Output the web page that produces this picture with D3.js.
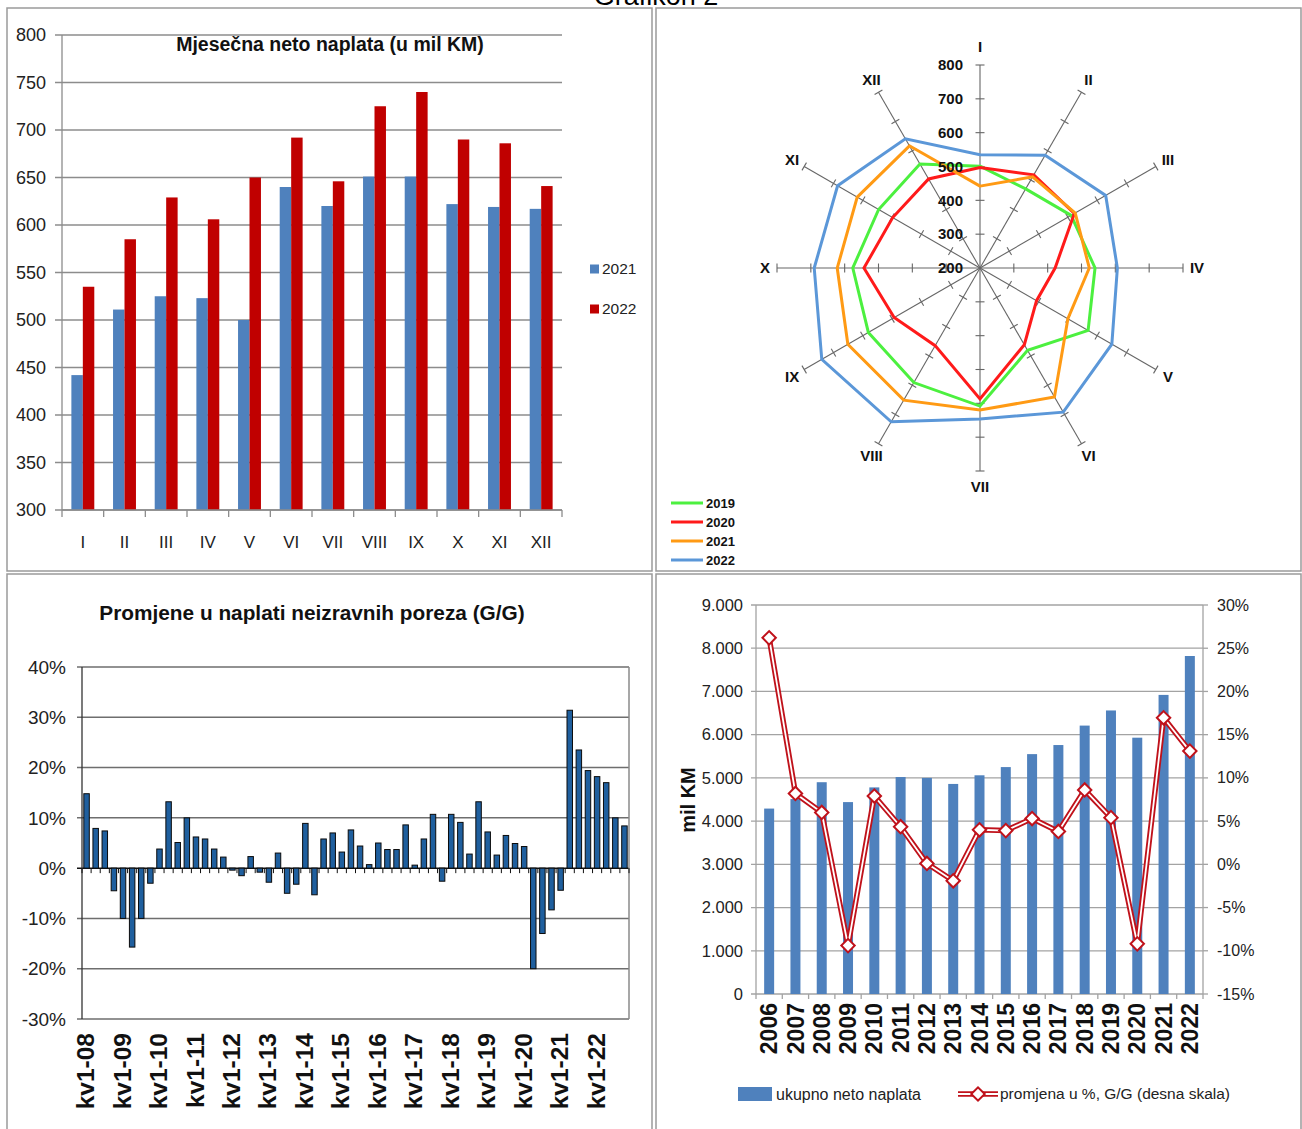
<!DOCTYPE html>
<html><head><meta charset="utf-8">
<script src="https://cdn.jsdelivr.net/npm/d3@7"></script>
<style>
html,body{margin:0;padding:0;background:#fff;}
svg{display:block;}
</style></head><body>
<svg id="c" width="1302" height="1129"></svg>
<script>
const SANS = '"Liberation Sans",Arial,Helvetica,sans-serif';
const ARIAL = '"Liberation Sans",Arial,Helvetica,sans-serif';

// ---------- Panel 1: monthly net collection ----------
const months = ["I","II","III","IV","V","VI","VII","VIII","IX","X","XI","XII"];
const net2021 = [442,511,525,523,500,640,620,651,651,622,619,617];
const net2022 = [535,585,629,606,650,692,646,725,740,690,686,641];
const barYears = ["2021","2022"];
const monthTicks = [300,350,400,450,500,550,600,650,700,750,800];

// ---------- Panel 2: radar ----------
const radar2019 = [501,470,511,540,569,481,608,591,581,576,546,555];
const radar2020 = [497,518,522,422,393,462,587,465,493,543,498,504];
const radar2021 = net2021;
const radar2022 = net2022;
const radarYears = ["2019","2020","2021","2022"];
const radarTicks = [200,300,400,500,600,700,800];

// ---------- Panel 3: quarterly y/y change ----------
const quarterChange = [14.8,7.9,7.4,-4.5,-10,-15.7,-10,-3,
  3.8,13.2,5.1,10,6.2,5.8,3.8,2.2,
  -0.4,-1.5,2.3,-0.8,-2.8,3,-5,-3.2,
  8.9,-5.3,5.8,7,3.2,7.6,4.4,0.7,
  5,3.7,3.7,8.6,0.6,5.8,10.7,-2.6,
  10.7,9.1,2.8,13.2,7.2,2.6,6.5,4.9,
  4.3,-20,-13,-8.3,-4.4,31.4,23.5,19.4,
  18.2,17,10,8.4];
const quarterYears = ["08","09","10","11","12","13","14","15","16","17","18","19","20","21","22"];
const pctTicks = [-30,-20,-10,0,10,20,30,40];

// ---------- Panel 4: annual totals ----------
const years = ["2006","2007","2008","2009","2010","2011","2012","2013","2014","2015","2016","2017","2018","2019","2020","2021","2022"];
const totalNet = [4290,4510,4900,4440,4780,5020,5000,4860,5060,5250,5550,5760,6210,6560,5930,6920,7820];
const totalChange = [26.2,8.2,6.0,-9.4,7.9,4.35,0.1,-1.9,4.0,3.9,5.3,3.8,8.6,5.4,-9.2,16.95,13.1];
const leftTicks4 = [0,1000,2000,3000,4000,5000,6000,7000,8000,9000];
const rightTicks4 = [-15,-10,-5,0,5,10,15,20,25,30];

const svg = d3.select("#c");

// page title (cut off at top, as in the source)
svg.append("text").attr("x",656).attr("y",5).attr("text-anchor","middle")
  .attr("font-family",ARIAL).attr("font-size",27).attr("fill","#000").text("Grafikon 2");

// panel frames
const frames = [[7,8,645,563],[656,8,645,563],[7,574,645,560],[656,574,645,560]];
svg.append("g").selectAll("rect").data(frames).join("rect")
  .attr("x",d=>d[0]).attr("y",d=>d[1]).attr("width",d=>d[2]).attr("height",d=>d[3])
  .attr("fill","none").attr("stroke","#9a9a9a").attr("stroke-width",1.5);

// ================= Panel 1 =================
(function(){
  const g = svg.append("g");
  const x0 = d3.scaleBand().domain(months).range([62,562]).padding(0);
  const x1 = d3.scaleBand().domain(barYears).range([x0.bandwidth()*0.225, x0.bandwidth()*0.775]);
  const y = d3.scaleLinear().domain([300,800]).range([510,35]);
  const col = {"2021":"#4f81bd","2022":"#c00000"};

  g.append("g").selectAll("line").data(monthTicks).join("line")
    .attr("x1",55).attr("x2",562).attr("y1",d=>y(d)).attr("y2",d=>y(d))
    .attr("stroke","#8c8c8c").attr("stroke-width",1.3);
  g.append("line").attr("x1",62).attr("x2",62).attr("y1",y(800)).attr("y2",y(300))
    .attr("stroke","#8c8c8c").attr("stroke-width",1.3);
  g.append("g").selectAll("text").data(monthTicks).join("text")
    .attr("x",46).attr("y",d=>y(d)).attr("dy","0.35em").attr("text-anchor","end")
    .attr("font-family",SANS).attr("font-size",18).attr("fill","#222").text(d=>d);

  const data = months.map((m,i)=>({m, vals:[{k:"2021",v:net2021[i]},{k:"2022",v:net2022[i]}]}));
  g.append("g").selectAll("g").data(data).join("g")
    .attr("transform",d=>`translate(${x0(d.m)},0)`)
    .selectAll("rect").data(d=>d.vals).join("rect")
    .attr("x",d=>x1(d.k)).attr("width",x1.bandwidth())
    .attr("y",d=>y(d.v)).attr("height",d=>y(300)-y(d.v)).attr("fill",d=>col[d.k]);

  // bottom axis
  g.append("line").attr("x1",62).attr("x2",562).attr("y1",510).attr("y2",510)
    .attr("stroke","#8c8c8c").attr("stroke-width",1.3);
  g.append("g").selectAll("line").data(months.concat(["end"])).join("line")
    .attr("x1",(d,i)=>62+i*x0.step()).attr("x2",(d,i)=>62+i*x0.step())
    .attr("y1",510).attr("y2",517).attr("stroke","#8c8c8c").attr("stroke-width",1.3);
  g.append("g").selectAll("text").data(months).join("text")
    .attr("x",d=>x0(d)+x0.bandwidth()/2).attr("y",548).attr("text-anchor","middle")
    .attr("font-family",SANS).attr("font-size",17).attr("fill","#222").text(d=>d);

  g.append("text").attr("x",330).attr("y",51).attr("text-anchor","middle")
    .attr("font-family",SANS).attr("font-weight","bold").attr("font-size",19.5).attr("fill","#111")
    .text("Mjesečna neto naplata (u mil KM)");

  const lg = g.append("g").selectAll("g").data(barYears).join("g")
    .attr("transform",(d,i)=>`translate(590,${269+i*40})`);
  lg.append("rect").attr("x",0).attr("y",-4.5).attr("width",9).attr("height",9).attr("fill",d=>col[d]);
  lg.append("text").attr("x",12).attr("dy","0.35em").attr("font-family",SANS).attr("font-size",15.5)
    .attr("fill","#222").text(d=>d);
})();

// ================= Panel 2: radar =================
(function(){
  const cx=980, cy=268;
  const r = d3.scaleLinear().domain([200,800]).range([0,203]);
  const g = svg.append("g").attr("transform",`translate(${cx},${cy})`);
  const step = 2*Math.PI/months.length;

  // axes
  const ax = g.append("g").selectAll("g").data(months).join("g")
    .attr("transform",(d,i)=>`rotate(${i*360/months.length})`);
  ax.append("line").attr("x1",0).attr("y1",0).attr("x2",0).attr("y2",-r(800))
    .attr("stroke","#666").attr("stroke-width",1.1);
  ax.selectAll("line.t").data(radarTicks.slice(1)).join("line").attr("class","t")
    .attr("x1",-4.5).attr("x2",4.5).attr("y1",d=>-r(d)).attr("y2",d=>-r(d))
    .attr("stroke","#666").attr("stroke-width",1.1);

  // series
  const series = [
    {k:"2019",vals:radar2019,c:"#4cf03f"},
    {k:"2020",vals:radar2020,c:"#ff1a1a"},
    {k:"2021",vals:radar2021,c:"#ff9a14"},
    {k:"2022",vals:radar2022,c:"#5b97d8"}];
  const line = d3.lineRadial().angle((d,i)=>i*step).radius(d=>r(d)).curve(d3.curveLinearClosed);
  g.append("g").selectAll("path").data(series).join("path")
    .attr("d",d=>line(d.vals)).attr("fill","none").attr("stroke",d=>d.c)
    .attr("stroke-width",3).attr("stroke-linejoin","miter");

  // tick labels on axis I
  g.append("g").selectAll("text").data(radarTicks).join("text")
    .attr("x",-17).attr("y",d=>-r(d)).attr("dy","0.35em").attr("text-anchor","end")
    .attr("font-family",ARIAL).attr("font-weight","bold").attr("font-size",15).attr("fill","#111")
    .text(d=>d);

  // month labels
  const labR = i => (i===0 ? 221 : i===6 ? 219 : i===3 ? 217 : i===9 ? 215 : 217);
  g.append("g").selectAll("text").data(months).join("text")
    .attr("x",(d,i)=>labR(i)*Math.sin(i*step)).attr("y",(d,i)=>-labR(i)*Math.cos(i*step))
    .attr("dy","0.35em").attr("text-anchor","middle")
    .attr("font-family",ARIAL).attr("font-weight","bold").attr("font-size",15).attr("fill","#111")
    .text(d=>d);

  // legend
  const lg = svg.append("g").selectAll("g").data(series).join("g")
    .attr("transform",(d,i)=>`translate(671,${503+i*19})`);
  lg.append("line").attr("x1",0).attr("x2",32).attr("stroke",d=>d.c).attr("stroke-width",3);
  lg.append("text").attr("x",35).attr("dy","0.35em").attr("font-family",ARIAL).attr("font-weight","bold")
    .attr("font-size",13).attr("fill","#111").text(d=>d.k);
})();

// ================= Panel 3 =================
(function(){
  const g = svg.append("g");
  const x = d3.scaleBand().domain(d3.range(quarterChange.length)).range([82,629]).paddingInner(0.4).paddingOuter(0.2);
  const y = d3.scaleLinear().domain([-30,40]).range([1019,667]);

  g.append("g").selectAll("line").data(pctTicks).join("line")
    .attr("x1",77).attr("x2",629).attr("y1",d=>y(d)).attr("y2",d=>y(d))
    .attr("stroke",d=>d===0?"#111":"#6e6e6e").attr("stroke-width",1.5);
  g.append("line").attr("x1",82).attr("x2",82).attr("y1",y(40)).attr("y2",y(-30)).attr("stroke","#333").attr("stroke-width",1.3);
  g.append("line").attr("x1",629).attr("x2",629).attr("y1",y(40)).attr("y2",y(-30)).attr("stroke","#8a8a8a").attr("stroke-width",1.5);
  g.append("g").selectAll("text").data(pctTicks).join("text")
    .attr("x",66).attr("y",d=>y(d)).attr("dy","0.35em").attr("text-anchor","end")
    .attr("font-family",ARIAL).attr("font-size",19).attr("fill","#222").text(d=>d+"%");

  // quarter ticks
  g.append("g").selectAll("line").data(d3.range(quarterChange.length+1)).join("line")
    .attr("x1",d=>82+d*x.step()).attr("x2",d=>82+d*x.step()).attr("y1",y(0)).attr("y2",y(0)+5)
    .attr("stroke","#111").attr("stroke-width",1);

  g.append("g").selectAll("rect").data(quarterChange).join("rect")
    .attr("x",(d,i)=>x(i)).attr("width",x.bandwidth())
    .attr("y",d=>y(Math.max(0,d))).attr("height",d=>Math.abs(y(d)-y(0)))
    .attr("fill","#1f5f9e").attr("stroke","#0b0b0b").attr("stroke-width",1);

  g.append("g").selectAll("text").data(quarterYears).join("text")
    .attr("transform",(d,i)=>`translate(${x(i*4)+x.bandwidth()/2-1},1033) rotate(-90)`)
    .attr("dy","0.35em").attr("text-anchor","end")
    .attr("font-family",ARIAL).attr("font-weight","bold").attr("font-size",24.5).attr("fill","#111")
    .text(d=>"kv1-"+d);

  g.append("text").attr("x",312).attr("y",620).attr("text-anchor","middle")
    .attr("font-family",ARIAL).attr("font-weight","bold").attr("font-size",20.8).attr("fill","#111")
    .text("Promjene u naplati neizravnih poreza (G/G)");
})();

// ================= Panel 4 =================
(function(){
  const g = svg.append("g");
  const loc = d3.formatLocale({decimal:",",thousands:".",grouping:[3],currency:["",""]});
  const fmt = loc.format(",");
  const x = d3.scaleBand().domain(years).range([756,1203]).paddingInner(0.62).paddingOuter(0.31);
  const yL = d3.scaleLinear().domain([0,9000]).range([994,605]);
  const yR = d3.scaleLinear().domain([-15,30]).range([994,605]);
  const RED = "#c0121b";

  g.append("g").selectAll("line").data(leftTicks4).join("line")
    .attr("x1",751).attr("x2",1203).attr("y1",d=>yL(d)).attr("y2",d=>yL(d))
    .attr("stroke","#a3a3a3").attr("stroke-width",1.3);
  g.append("line").attr("x1",756).attr("x2",756).attr("y1",605).attr("y2",994).attr("stroke","#a3a3a3").attr("stroke-width",1.3);
  g.append("line").attr("x1",1203).attr("x2",1203).attr("y1",605).attr("y2",994).attr("stroke","#a3a3a3").attr("stroke-width",1.3);
  g.append("g").selectAll("line").data(rightTicks4).join("line")
    .attr("x1",1203).attr("x2",1208).attr("y1",d=>yR(d)).attr("y2",d=>yR(d))
    .attr("stroke","#a3a3a3").attr("stroke-width",1.3);

  g.append("g").selectAll("text").data(leftTicks4).join("text")
    .attr("x",743).attr("y",d=>yL(d)).attr("dy","0.35em").attr("text-anchor","end")
    .attr("font-family",SANS).attr("font-size",16.5).attr("fill","#222").text(d=>fmt(d));
  g.append("g").selectAll("text").data(rightTicks4).join("text")
    .attr("x",1217).attr("y",d=>yR(d)).attr("dy","0.35em").attr("text-anchor","start")
    .attr("font-family",SANS).attr("font-size",16).attr("fill","#222").text(d=>d+"%");

  g.append("g").selectAll("rect").data(totalNet).join("rect")
    .attr("x",(d,i)=>x(years[i])).attr("width",x.bandwidth())
    .attr("y",d=>yL(d)).attr("height",d=>yL(0)-yL(d)).attr("fill","#4f81bd");

  // category ticks
  g.append("g").selectAll("line").data(d3.range(years.length+1)).join("line")
    .attr("x1",d=>756+d*x.step()).attr("x2",d=>756+d*x.step()).attr("y1",994).attr("y2",999)
    .attr("stroke","#a3a3a3").attr("stroke-width",1.3);

  const line = d3.line().x((d,i)=>x(years[i])+x.bandwidth()/2).y(d=>yR(d));
  g.append("path").attr("d",line(totalChange)).attr("fill","none").attr("stroke",RED).attr("stroke-width",5.5).attr("stroke-linejoin","round");
  g.append("path").attr("d",line(totalChange)).attr("fill","none").attr("stroke","#fff").attr("stroke-width",1.8).attr("stroke-linejoin","round");
  const marker = d3.symbol().type(d3.symbolSquare).size(90);
  g.append("g").selectAll("path").data(totalChange).join("path")
    .attr("transform",(d,i)=>`translate(${x(years[i])+x.bandwidth()/2},${yR(d)}) rotate(45)`)
    .attr("d",marker).attr("fill","#fff").attr("stroke",RED).attr("stroke-width",2);

  g.append("g").selectAll("text").data(years).join("text")
    .attr("transform",d=>`translate(${x(d)+x.bandwidth()/2},1003) rotate(-90)`)
    .attr("dy","0.35em").attr("text-anchor","end")
    .attr("font-family",ARIAL).attr("font-weight","bold").attr("font-size",23).attr("fill","#111").text(d=>d);

  g.append("text").attr("transform","translate(688,800) rotate(-90)").attr("dy","0.35em").attr("text-anchor","middle")
    .attr("font-family",ARIAL).attr("font-weight","bold").attr("font-size",20).attr("fill","#111").text("mil KM");

  // legend
  g.append("rect").attr("x",738).attr("y",1087).attr("width",34).attr("height",14).attr("fill","#4f81bd");
  g.append("text").attr("x",776).attr("y",1094).attr("dy","0.35em").attr("font-family",SANS).attr("font-size",16)
    .attr("fill","#222").text("ukupno neto naplata");
  g.append("line").attr("x1",958).attr("x2",998).attr("y1",1094).attr("y2",1094).attr("stroke",RED).attr("stroke-width",5.5);
  g.append("line").attr("x1",958).attr("x2",998).attr("y1",1094).attr("y2",1094).attr("stroke","#fff").attr("stroke-width",1.8);
  g.append("path").attr("transform","translate(978,1094) rotate(45)")
    .attr("d",marker).attr("fill","#fff").attr("stroke",RED).attr("stroke-width",2);
  g.append("text").attr("x",1000).attr("y",1094).attr("dy","0.35em").attr("font-family",SANS).attr("font-size",15.5)
    .attr("fill","#222").text("promjena u %, G/G (desna skala)");
})();
</script>
</body></html>
